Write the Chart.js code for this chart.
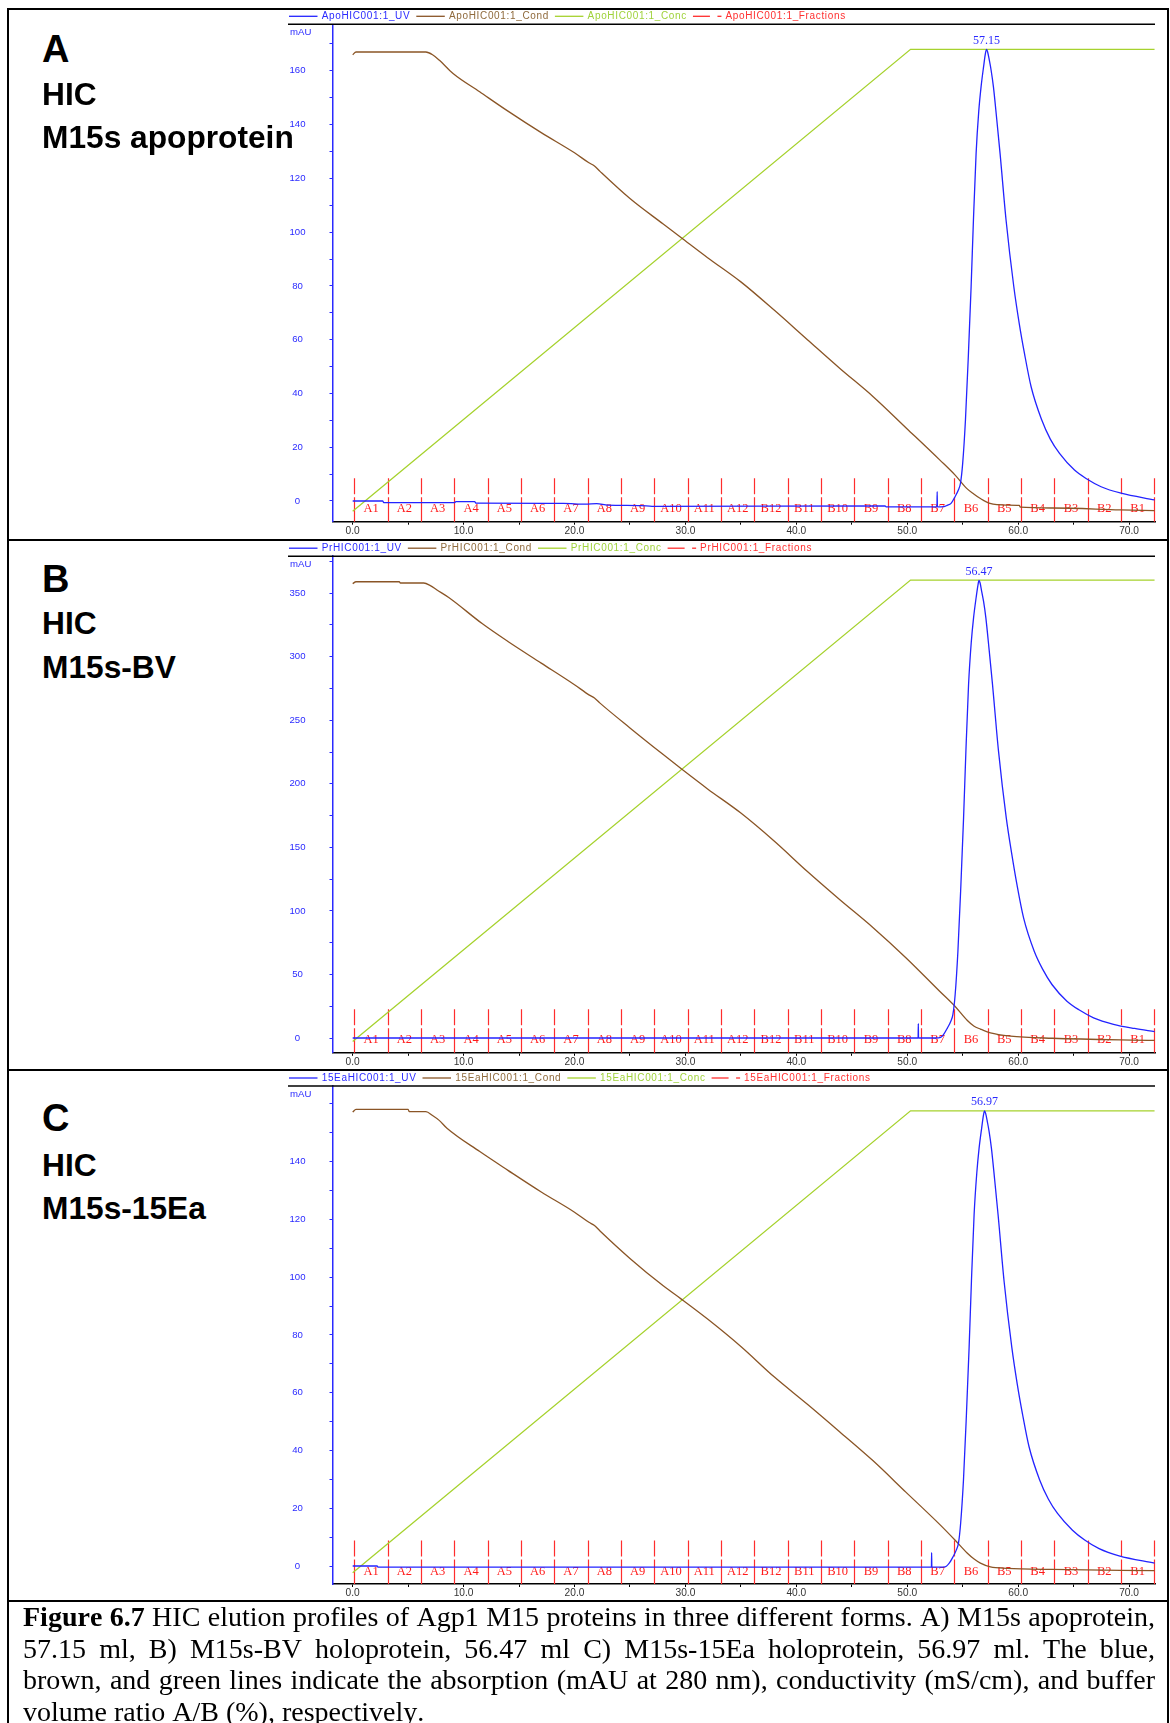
<!DOCTYPE html>
<html lang="en">
<head>
<meta charset="utf-8">
<title>HIC elution profiles of Agp1 M15 proteins</title>
<script src="https://cdn.jsdelivr.net/npm/chart.js@4.4.1/dist/chart.umd.min.js"></script>
<style>
  html, body { margin: 0; padding: 0; background: #fff; }
  body { position: relative; width: 1170px; height: 1723px; overflow: hidden; }
  canvas { position: absolute; left: 288px; }
  .rule { position: absolute; background: #000; }
  .tag { position: absolute; left: 42px; font-family: "Liberation Sans", Arial, sans-serif; font-weight: bold;
         font-size: 31.7px; line-height: 1; color: #000; white-space: nowrap; }
  .tag.letter { font-size: 38px; }
  #caption { position: absolute; left: 23px; top: 1601px; width: 1132px; font-family: "Liberation Serif", "Times New Roman", serif;
             font-size: 28px; line-height: 31.5px; text-align: justify; font-kerning: none; color: #000; }
</style>
</head>
<body>
<canvas id="chartA" width="872" height="531" style="top:9px"></canvas>
<canvas id="chartB" width="872" height="530" style="top:540px"></canvas>
<canvas id="chartC" width="872" height="531" style="top:1070px"></canvas>

<div class="tag letter" style="top:29.5px">A</div>
<div class="tag" style="top:79.2px">HIC</div>
<div class="tag" style="top:121.5px">M15s apoprotein</div>

<div class="tag letter" style="top:559.8px">B</div>
<div class="tag" style="top:607.7px">HIC</div>
<div class="tag" style="top:652.2px">M15s-BV</div>

<div class="tag letter" style="top:1099.4px">C</div>
<div class="tag" style="top:1149.8px">HIC</div>
<div class="tag" style="top:1192.7px">M15s-15Ea</div>

<div class="rule" style="left:7px;top:8px;width:1162px;height:2px"></div>
<div class="rule" style="left:7px;top:8px;width:2px;height:1715px"></div>
<div class="rule" style="left:1167px;top:8px;width:2px;height:1715px"></div>
<div class="rule" style="left:7px;top:538.5px;width:1162px;height:2px"></div>
<div class="rule" style="left:7px;top:1068.5px;width:1162px;height:2px"></div>
<div class="rule" style="left:7px;top:1600px;width:1162px;height:2px"></div>

<div id="caption"><b>Figure 6.7</b> HIC elution profiles of Agp1 M15 proteins in three different forms. A) M15s apoprotein, 57.15 ml, B) M15s-BV holoprotein, 56.47 ml C) M15s-15Ea holoprotein, 56.97 ml. The blue, brown, and green lines indicate the absorption (mAU at 280 nm), conductivity (mS/cm), and buffer volume ratio A/B (%), respectively.</div>

<script>
// ---- run names ----
const runNames = ['ApoHIC001:1', 'PrHIC001:1', '15EaHIC001:1'];

// ---- elution volume axis (ml) ----
const volumeTicks = [0, 5, 10, 15, 20, 25, 30, 35, 40, 45, 50, 55, 60, 65, 70];
const volumeLabels = [0, 10, 20, 30, 40, 50, 60, 70];

// ---- fraction collector ----
const fractionEdges = [0.15, 3.16, 6.16, 9.17, 12.17, 15.18, 18.18, 21.19, 24.19, 27.2, 30.2, 33.21, 36.21,
                       39.22, 42.22, 45.23, 48.23, 51.24, 54.24, 57.25, 60.25, 63.26, 66.26, 69.27, 72.27];
const fractionNames = ['A1', 'A2', 'A3', 'A4', 'A5', 'A6', 'A7', 'A8', 'A9', 'A10', 'A11', 'A12',
                       'B12', 'B11', 'B10', 'B9', 'B8', 'B7', 'B6', 'B5', 'B4', 'B3', 'B2', 'B1'];

// ---- absorbance axis ticks ----
const mauTicksA = [0, 10, 20, 30, 40, 50, 60, 70, 80, 90, 100, 110, 120, 130, 140, 150, 160, 170];
const mauLabelsA = [0, 20, 40, 60, 80, 100, 120, 140, 160];
const mauTicksB = [0, 25, 50, 75, 100, 125, 150, 175, 200, 225, 250, 275, 300, 325, 350, 375];
const mauLabelsB = [0, 50, 100, 150, 200, 250, 300, 350];
const mauTicksC = [0, 10, 20, 30, 40, 50, 60, 70, 80, 90, 100, 110, 120, 130, 140, 150, 160];
const mauLabelsC = [0, 20, 40, 60, 80, 100, 120, 140];

// ---- A: M15s apoprotein  [ml, value] ----
const uvA = [[0,0],[2.7,0],[2.8,-0.6],[9.2,-0.6],[9.3,-0.2],[11,-0.2],[11.1,-0.8],[19,-0.9],[21,-1.2],[22,-1.0],
  [23,-1.5],[26,-1.7],[27,-2.0],[48,-1.8],[48.1,-2.2],[52.68,-2.2],[52.7,3.5],[52.72,-2.2],[53.3,-2.1],[53.6,-1.6],
  [53.95,-0.9],[54.31,1.6],[54.6,4.0],[54.8,6.6],[55.0,14],[55.25,30.1],[55.52,54.9],[55.76,79.7],[55.97,104.5],
  [56.21,129.3],[56.45,145],[56.66,154.1],[56.9,162],[57.05,166.5],[57.15,168],[57.25,167],[57.4,164],[57.56,160.3],
  [57.77,154.1],[58.07,142],[58.37,129.3],[58.91,104.5],[59.61,79.7],[60.1,66],[60.57,54.9],[61.17,42.5],
  [62.13,30.1],[62.9,23],[63.73,17.7],[65.08,11.5],[66.2,8.2],[67.48,5.3],[69.28,2.9],[72.3,0.4]];
const condA = [[0,166],[0.3,167],[6.6,167],[7.2,166],[7.8,164],[9.05,159],[11.45,152.2],[14,145],[17,137],[20,129.5],
  [21.3,125.8],[21.8,124.6],[22.3,122.6],[25,112.5],[28,103],[29.6,98],[32,90.5],[35,81.5],[38,71],[41,60],
  [43.93,49.3],[46.93,38.8],[49.95,27],[52.95,15.2],[54.3,9.7],[55.36,4.7],[56.0,2.6],[56.56,1.0],[57.46,-0.9],
  [58.97,-1.5],[60.1,-1.6],[60.2,-2.3],[63.1,-2.6],[69.2,-3.3],[72.3,-3.6]];
const concA = [[0,0],[50.3,100],[72.3,100]];

// ---- B: M15s-BV holoprotein ----
const uvB = [[0,0],[50.98,0],[51.0,11.2],[51.02,0],[52.6,0],[53.0,0.5],[53.27,2.7],[53.63,8.0],[53.92,13],[54.12,18.6],
  [54.32,34],[54.57,68.3],[54.84,120.8],[55.08,173.2],[55.29,225.7],[55.53,278.1],[55.77,311],[55.98,330.6],
  [56.22,347],[56.37,356],[56.47,360],[56.57,358],[56.72,351],[56.88,343.7],[57.09,330.6],[57.39,305],[57.69,278.1],
  [58.23,225.7],[58.93,173.2],[59.42,145],[59.89,120.8],[60.49,94.5],[61.45,68.3],[62.22,54],[63.05,42.1],[64.4,29.0],
  [65.52,22],[66.8,15.9],[68.6,10.8],[70.5,7.5],[72.3,5.0]];
const condB = [[0,357.5],[0.3,359],[4.2,359],[4.3,358],[6.4,358],[7.0,356],[7.6,352.5],[8.66,346.6],[11.7,325.9],
  [14,312],[17,295],[20,278],[21.3,270],[21.8,267.5],[22.3,263.5],[25,244],[28,223],[29.6,212],[32,196],[35,177],
  [38,155],[41,131],[43.9,109],[46.9,87],[49.9,63],[52.9,37],[54.3,25],[55.4,14],[56.0,9.5],[56.6,7],[57.5,4],
  [59.3,1.5],[63.1,-0.2],[72.3,-1.9]];
const concB = [[0,0],[50.3,100],[72.3,100]];

// ---- C: M15s-15Ea holoprotein ----
const uvC = [[0,0],[2.2,0],[2.3,-0.4],[52.18,-0.4],[52.2,4.6],[52.22,-0.4],[53.4,-0.3],[53.77,0.9],[54.13,3.2],
  [54.42,5.5],[54.62,7.9],[54.82,15],[55.07,29.7],[55.34,52.7],[55.58,75.7],[55.79,98.7],[56.03,121.7],[56.27,136],
  [56.48,144.7],[56.72,151.9],[56.87,156],[56.97,157.6],[57.07,156.7],[57.22,153.9],[57.38,150.5],[57.59,144.7],
  [57.89,133.5],[58.19,121.7],[58.73,98.7],[59.43,75.7],[59.92,63],[60.39,52.7],[60.99,41.2],[61.95,29.7],
  [62.72,23.2],[63.55,18.2],[64.9,12.4],[66.0,9.0],[67.3,6.0],[69.1,3.5],[72.3,1.0]];
const condC = [[0,157.2],[0.3,158.1],[5.0,158.1],[5.1,157.3],[6.6,157.3],[7.2,156],[7.8,154.3],[8.5,151.6],
  [11.46,143.5],[14,137],[17,129.5],[20,122.5],[21.3,119],[21.8,117.9],[22.3,116],[25,106.5],[28,97],[29.6,92.5],
  [32,85.5],[35,76],[38,65.5],[41,56],[43.9,46.5],[46.9,36.5],[49.9,25.5],[52.9,14.5],[54.3,9],[55.4,4.5],[56.0,2.5],
  [56.6,1.0],[57.5,-0.3],[59,-0.8],[63,-1.2],[72.3,-1.6]];
const concC = [[0,0],[50.3,100],[72.3,100]];

// ---- styling ----
const UV_COLOR = '#2323ff';
const COND_COLOR = '#8a5526';
const CONC_COLOR = '#a6d22e';
const FRACTION_COLOR = '#ff2d2d';
const AXIS_BLUE = '#2a2aff';
const FONT_SANS = '"Liberation Sans", Arial, sans-serif';
const FONT_SERIF = '"Liberation Serif", "Times New Roman", serif';

Chart.defaults.font.family = FONT_SANS;

const toPoints = pairs => pairs.map(([x, y]) => ({ x, y }));

// Legend strip, header rule, "mAU" caption, fraction marks and peak volume label
const panelDecor = {
  id: 'panelDecor',
  beforeDatasetsDraw(chart) {
    const { ctx, chartArea: a } = chart;
    const xs = chart.scales.x;
    ctx.save();
    ctx.strokeStyle = FRACTION_COLOR;
    ctx.lineWidth = 1.2;
    ctx.beginPath();
    fractionEdges.forEach(v => {
      const px = Math.round(xs.getPixelForValue(v)) + 0.5;
      ctx.moveTo(px, a.bottom - 43.5); ctx.lineTo(px, a.bottom - 27.5);
      ctx.moveTo(px, a.bottom - 24.5); ctx.lineTo(px, a.bottom);
    });
    ctx.stroke();
    ctx.fillStyle = '#ff1a1a';
    ctx.font = '12.5px ' + FONT_SERIF;
    ctx.textAlign = 'center';
    ctx.textBaseline = 'middle';
    fractionNames.forEach((name, i) => {
      const mid = (xs.getPixelForValue(fractionEdges[i]) + xs.getPixelForValue(fractionEdges[i + 1])) / 2;
      ctx.fillText(name, mid, a.bottom - 12.7);
    });
    ctx.restore();
  },
  afterDraw(chart, _args, opts) {
    const { ctx, chartArea: a } = chart;
    ctx.save();
    // rule under the legend strip
    ctx.strokeStyle = '#000';
    ctx.lineWidth = 1.5;
    ctx.beginPath(); ctx.moveTo(0, a.top); ctx.lineTo(a.right, a.top); ctx.stroke();

    // legend strip
    const y = a.top - 8;
    let x = 1;
    ctx.font = '10px ' + FONT_SANS;
    ctx.letterSpacing = '0.65px';
    ctx.textAlign = 'left';
    ctx.textBaseline = 'middle';
    ctx.lineWidth = 1.3;
    chart.data.datasets.forEach(d => {
      ctx.strokeStyle = d.borderColor;
      ctx.beginPath(); ctx.moveTo(x, y); ctx.lineTo(x + 28.5, y); ctx.stroke();
      x += 28.5 + 4.2;
      ctx.fillStyle = d.legendColor;
      ctx.fillText(d.label, x, y);
      x += ctx.measureText(d.label).width + 6;
    });
    ctx.strokeStyle = FRACTION_COLOR;
    ctx.beginPath(); ctx.moveTo(x, y); ctx.lineTo(x + 17, y); ctx.stroke();
    x += 17 + 7.5;
    ctx.beginPath(); ctx.moveTo(x, y); ctx.lineTo(x + 4, y); ctx.stroke();
    x += 4 + 4;
    ctx.fillStyle = '#ff3030';
    ctx.fillText(opts.run + '_Fractions', x, y);
    ctx.letterSpacing = '0px';

    // unit caption of the absorbance axis
    ctx.fillStyle = AXIS_BLUE;
    ctx.font = '9.6px ' + FONT_SANS;
    ctx.fillText('mAU', 2, a.top + 8);

    // retention volume at the UV maximum
    const uv = chart.data.datasets[0].data;
    const top = uv.reduce((m, p) => (p.y > m.y ? p : m), uv[0]);
    const px = chart.scales.x.getPixelForValue(top.x);
    const py = chart.scales.y.getPixelForValue(top.y);
    ctx.font = '12px ' + FONT_SERIF;
    ctx.textAlign = 'center';
    ctx.fillStyle = AXIS_BLUE;
    ctx.fillText(top.x.toFixed(2), px, py - 8.6);
    ctx.restore();
  }
};

const panels = [
  { canvas: 'chartA', run: runNames[0], uv: uvA, cond: condA, conc: concA, ticks: mauTicksA, labels: mauLabelsA,
    yMin: -7.7, yMax: 177.3, concZero: -3.8, concFull: 168, top: 9, height: 531, plotTop: 24.3, plotBottom: 521.7 },
  { canvas: 'chartB', run: runNames[1], uv: uvB, cond: condB, conc: concB, ticks: mauTicksB, labels: mauLabelsB,
    yMin: -11.64, yMax: 379.1, concZero: -2.7, concFull: 360.3, top: 540, height: 530, plotTop: 556.2, plotBottom: 1052.8 },
  { canvas: 'chartC', run: runNames[2], uv: uvC, cond: condC, conc: concC, ticks: mauTicksC, labels: mauLabelsC,
    yMin: -6.23, yMax: 166.2, concZero: -2.3, concFull: 157.6, top: 1070, height: 531, plotTop: 1086, plotBottom: 1584 }
];

const X_MIN = -1.82, X_MAX = 72.34;

// the axis boxes are sized by hand; drop the label overhang padding Chart.js reserves
const noOverhang = s => { s.paddingTop = 0; s.paddingBottom = 0; s.paddingLeft = 0; s.paddingRight = 0; };

panels.forEach(p => {
  const concSpan = p.concFull - p.concZero;
  new Chart(document.getElementById(p.canvas), {
    type: 'line',
    data: {
      datasets: [
        { label: p.run + '_UV', data: toPoints(p.uv), borderColor: UV_COLOR, legendColor: '#2a2aff',
          borderWidth: 1.3, pointRadius: 0, cubicInterpolationMode: 'monotone', yAxisID: 'y', order: 0 },
        { label: p.run + '_Cond', data: toPoints(p.cond), borderColor: COND_COLOR, legendColor: '#8f6a3c',
          borderWidth: 1.3, pointRadius: 0, cubicInterpolationMode: 'monotone', yAxisID: 'y', order: 1 },
        { label: p.run + '_Conc', data: toPoints(p.conc), borderColor: CONC_COLOR, legendColor: '#9fd23a',
          borderWidth: 1.3, pointRadius: 0, tension: 0, yAxisID: 'yConc', order: 2 }
      ]
    },
    options: {
      responsive: false,
      animation: false,
      devicePixelRatio: 1,
      layout: { padding: { top: p.plotTop - p.top, right: 5, bottom: 0, left: 0 } },
      plugins: {
        legend: { display: false },
        tooltip: { enabled: false },
        panelDecor: { run: p.run }
      },
      scales: {
        x: {
          type: 'linear', min: X_MIN, max: X_MAX,
          afterBuildTicks: s => { s.ticks = volumeTicks.map(v => ({ value: v })); },
          afterFit: s => { s.height = p.top + p.height - p.plotBottom; noOverhang(s); },
          ticks: {
            autoSkip: false, maxRotation: 0, padding: 0, color: '#333',
            font: { size: 10.2, family: FONT_SANS },
            callback: v => (volumeLabels.includes(v) ? v.toFixed(1) : '')
          },
          grid: { display: true, drawOnChartArea: false, drawTicks: true, tickLength: 3, color: '#000', lineWidth: 1 },
          border: { display: true, color: '#000', width: 1.5 }
        },
        y: {
          type: 'linear', position: 'left', min: p.yMin, max: p.yMax,
          afterBuildTicks: s => { s.ticks = p.ticks.map(v => ({ value: v })); },
          afterFit: s => { s.width = 44.5; noOverhang(s); },
          ticks: {
            autoSkip: false, crossAlign: 'center', padding: 24, color: AXIS_BLUE,
            font: { size: 9.6, family: FONT_SANS },
            callback: v => (p.labels.includes(v) ? String(v) : '')
          },
          grid: { display: true, drawOnChartArea: false, drawTicks: true, tickLength: 3, color: AXIS_BLUE, lineWidth: 1 },
          border: { display: true, color: AXIS_BLUE, width: 1.5 }
        },
        yConc: {
          type: 'linear', display: false,
          min: (p.yMin - p.concZero) / concSpan * 100,
          max: (p.yMax - p.concZero) / concSpan * 100
        }
      }
    },
    plugins: [panelDecor]
  });
});
</script>
</body>
</html>
